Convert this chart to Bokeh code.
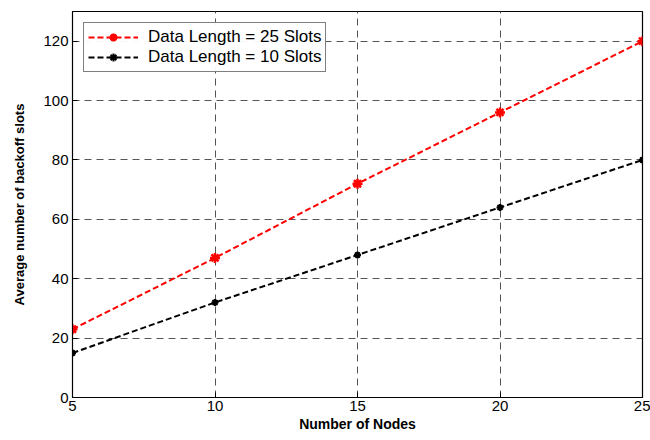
from bokeh.plotting import figure
from bokeh.models import Range1d, FixedTicker, Legend, LegendItem
from bokeh.embed import file_html
from bokeh.resources import INLINE

nodes = [5, 10, 15, 20, 25]
len25 = [23, 47, 72, 96, 120]
len10 = [15, 32, 48, 64, 80]
x_ticks = [5, 10, 15, 20, 25]
y_ticks = [0, 20, 40, 60, 80, 100, 120]

FONT = "Liberation Sans"

p = figure(width=650, height=440, output_backend="svg", toolbar_location=None,
           x_range=Range1d(5, 25), y_range=Range1d(0, 130),
           min_border_left=72, min_border_right=8, min_border_top=11, min_border_bottom=43)
p.outline_line_color = "black"
p.outline_line_width = 1.2
p.background_fill_color = "white"
p.border_fill_color = "white"

for ax in (p.xaxis[0], p.yaxis[0]):
    ax.major_tick_in = 5
    ax.major_tick_out = 0
    ax.minor_tick_line_color = None
    ax.axis_line_color = "black"
    ax.major_tick_line_color = "black"
    ax.major_label_text_font = FONT
    ax.major_label_text_font_size = "15px"
    ax.major_label_text_color = "black"
    ax.axis_label_text_font = FONT
    ax.axis_label_text_font_style = "bold"
    ax.axis_label_text_color = "black"

p.xaxis.ticker = FixedTicker(ticks=x_ticks)
p.yaxis.ticker = FixedTicker(ticks=y_ticks)
p.xaxis.axis_label = "Number of Nodes"
p.yaxis.axis_label = "Average number of backoff slots"
p.xaxis.axis_label_text_font_size = "14px"
p.yaxis.axis_label_text_font_size = "13px"
p.xaxis.axis_label_standoff = 2
p.yaxis.axis_label_standoff = 13
p.xaxis.major_label_standoff = 3
p.yaxis.major_label_standoff = 4

for g in (p.xgrid[0], p.ygrid[0]):
    g.grid_line_color = "#555555"
    g.grid_line_dash = "7 5"
    g.grid_line_width = 1

r1 = p.line(nodes, len25, line_color="red", line_width=2, line_dash="6 3")
m1 = p.scatter(nodes, len25, marker="asterisk", size=10, line_color="red", line_width=2.5)
r2 = p.line(nodes, len10, line_color="black", line_width=2, line_dash="6 3")
m2 = p.scatter(nodes, len10, marker="asterisk", size=7, line_color="black", line_width=2)

legend = Legend(items=[
    LegendItem(label="Data Length = 25 Slots", renderers=[r1, m1]),
    LegendItem(label="Data Length = 10 Slots", renderers=[r2, m2]),
], location="top_left")
legend.border_line_color = "black"
legend.border_line_width = 1
legend.label_text_font = FONT
legend.label_text_font_size = "17px"
legend.label_text_color = "black"
legend.glyph_width = 50
legend.label_standoff = 10
legend.padding = 4
legend.spacing = 0
legend.margin = 11
legend.label_height = 20
legend.glyph_height = 20
p.add_layout(legend)

open("out.html", "w").write(file_html(p, INLINE))
